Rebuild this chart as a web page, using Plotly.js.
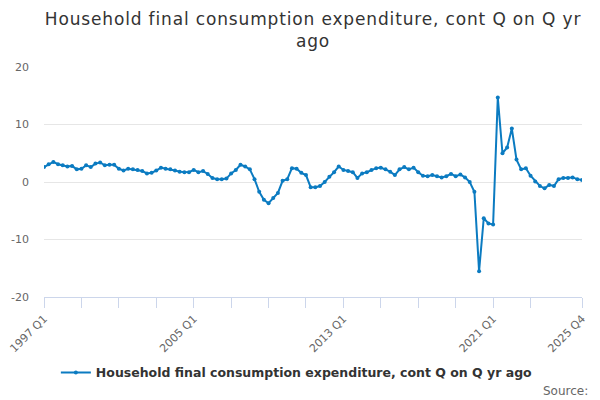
<!DOCTYPE html>
<html>
<head>
<meta charset="utf-8">
<script src="https://cdn.plot.ly/plotly-3.0.1.min.js"></script>
<style>
html,body{margin:0;padding:0;background:#fff;}
#chart{width:600px;height:400px;}
#chart .gtitle{letter-spacing:0.85px;}
</style>
</head>
<body>
<div id="chart"></div>
<script>
// Quarter categories 1997 Q1 .. 2025 Q4
var firstYear = 1997, lastYear = 2025;
var quarters = [];
for (var y = firstYear; y <= lastYear; y++) {
  for (var q = 1; q <= 4; q++) quarters.push(y + ' Q' + q);
}

// Contribution values (percentage points)
var values = [
  2.6, 3.1, 3.5, 3.1, 2.9, 2.7, 2.8, 2.2,   // 1997-1998
  2.3, 2.9, 2.6, 3.2, 3.4, 2.9, 3.0, 3.0,   // 1999-2000
  2.3, 2.0, 2.3, 2.2, 2.1, 1.9, 1.5, 1.6,   // 2001-2002
  2.0, 2.5, 2.3, 2.2, 2.0, 1.8, 1.7, 1.7,   // 2003-2004
  2.1, 1.7, 1.9, 1.4, 0.7, 0.5, 0.5, 0.6,   // 2005-2006
  1.5, 2.1, 3.0, 2.7, 2.2, 0.5, -1.7, -3.1, // 2007-2008
  -3.7, -2.8, -1.9, 0.2, 0.5, 2.4, 2.3, 1.6,// 2009-2010
  1.2, -0.9, -0.9, -0.7, 0.0, 0.9, 1.7, 2.7,// 2011-2012
  2.1, 1.9, 1.7, 0.7, 1.5, 1.7, 2.1, 2.4,   // 2013-2014
  2.5, 2.2, 1.8, 1.2, 2.2, 2.6, 2.2, 2.5,   // 2015-2016
  1.7, 1.1, 1.0, 1.2, 1.0, 0.8, 1.0, 1.4,   // 2017-2018
  1.0, 1.3, 0.8, 0.0, -1.7, -15.5, -6.3, -7.2, // 2019-2020
  -7.4, 14.7, 5.0, 6.0, 9.3, 3.9, 2.2, 2.4, // 2021-2022
  1.1, 0.1, -0.7, -1.1, -0.5, -0.7, 0.5, 0.7, // 2023-2024
  0.7, 0.8, 0.5, 0.35                       // 2025
];

var seriesName = 'Household final consumption expenditure, cont Q on Q yr ago';
var titleText = 'Household final consumption expenditure, cont Q on Q yr<br>ago';

// Tick marks every two years, labels every eight years, plus the final quarter
var tickQuarters = ['1997 Q1','1999 Q1','2001 Q1','2003 Q1','2005 Q1','2007 Q1','2009 Q1',
  '2011 Q1','2013 Q1','2015 Q1','2017 Q1','2019 Q1','2021 Q1','2023 Q1','2025 Q4'];
var labelledQuarters = ['1997 Q1','2005 Q1','2013 Q1','2021 Q1','2025 Q4'];
var tickLabels = tickQuarters.map(function (t) { return labelledQuarters.indexOf(t) >= 0 ? t : ''; });

var yTicks = [-20, -10, 0, 10, 20];

var fontFam = 'DejaVu Sans, Verdana, sans-serif';
var lineColor = '#0b7bc1';

var trace = {
  type: 'scatter',
  mode: 'lines+markers',
  x: quarters,
  y: values,
  name: seriesName,
  line: {color: lineColor, width: 2},
  marker: {color: lineColor, size: 4, symbol: 'circle'}
};

var layout = {
  width: 600, height: 400,
  margin: {l: 44, r: 18, t: 67, b: 103},
  paper_bgcolor: '#fff', plot_bgcolor: '#fff',
  font: {family: fontFam, color: '#666'},
  title: {
    text: titleText,
    font: {family: fontFam, size: 17, color: '#333'},
    x: 0.5, xanchor: 'center', xref: 'paper',
    y: 0.937, yanchor: 'top', yref: 'container'
  },
  xaxis: {
    type: 'category',
    range: [0, quarters.length - 1],
    tickmode: 'array',
    tickvals: tickQuarters,
    ticktext: tickLabels,
    tickangle: -45,
    ticks: 'outside', ticklen: 10, tickcolor: '#ccd6eb', tickwidth: 1,
    showline: true, linecolor: '#ccd6eb', linewidth: 1,
    showgrid: false, zeroline: false,
    tickfont: {family: fontFam, size: 11, color: '#666'},
    fixedrange: true
  },
  yaxis: {
    range: [-20, 20],
    tickmode: 'array',
    tickvals: yTicks,
    ticktext: yTicks.map(String),
    showgrid: true, gridcolor: '#e6e6e6', gridwidth: 1,
    zeroline: false, showline: false,
    ticks: '', ticklabelstandoff: 14,
    tickfont: {family: fontFam, size: 11, color: '#666'},
    fixedrange: true
  },
  showlegend: true,
  legend: {
    orientation: 'h',
    x: 0.47, xanchor: 'center',
    y: -0.33, yanchor: 'middle',
    font: {family: fontFam, size: 12.5, color: '#333', weight: 'bold'},
    itemwidth: 30
  },
  annotations: [{
    text: 'Source:',
    xref: 'paper', yref: 'paper',
    x: 1.015, xanchor: 'right',
    y: -0.41, yanchor: 'middle',
    showarrow: false,
    font: {family: fontFam, size: 12, color: '#666'}
  }]
};

Plotly.newPlot('chart', [trace], layout, {staticPlot: true, displayModeBar: false});
</script>
</body>
</html>
